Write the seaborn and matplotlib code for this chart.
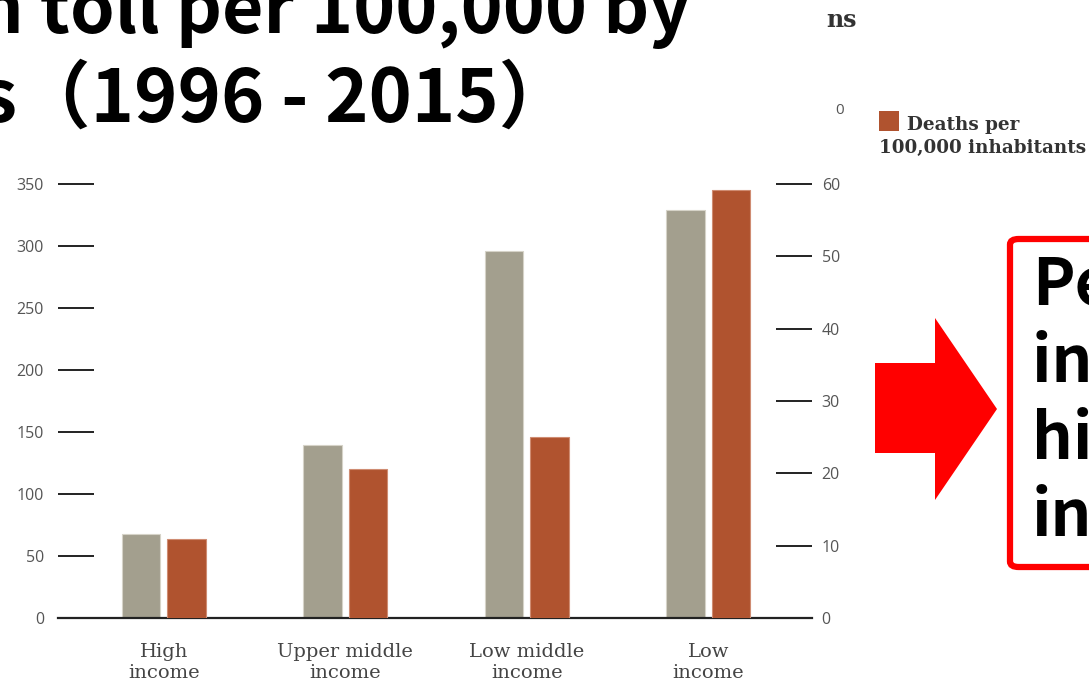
import matplotlib
matplotlib.use("Agg")
import matplotlib.pyplot as plt
from matplotlib.patches import Polygon, FancyBboxPatch, Rectangle
import pandas as pd
import seaborn as sns

categories = ["High\nincome", "Upper middle\nincome", "Low middle\nincome", "Low\nincome"]
total_deaths = [67.5, 139.5, 296, 329]          # left axis (0-350)
deaths_per_100k = [10.9, 20.6, 25.0, 59.2]      # right axis (0-60)
left_ticks = [0, 50, 100, 150, 200, 250, 300, 350]
right_ticks = [0, 10, 20, 30, 40, 50, 60]

title_line1 = "Death toll per 100,000 by"
title_line2 = "income groups（1996 - 2015）"
box_lines = ["People", "in low", "higher", "income"]

gray = "#A39F8E"
rust = "#B0532F"
series_order = ["total", "rate"]
palette = {"total": gray, "rate": rust}
edges = {"total": "#d6d3c8", "rate": "#cf8c72"}

# each axis gets both series so the dodge offsets match; the other one is zero
df_left = pd.DataFrame({
    "income": categories * 2,
    "series": ["total"] * 4 + ["rate"] * 4,
    "value": total_deaths + [0] * 4,
})
df_right = pd.DataFrame({
    "income": categories * 2,
    "series": ["total"] * 4 + ["rate"] * 4,
    "value": [0] * 4 + deaths_per_100k,
})

W, H = 1089, 685
fig = plt.figure(figsize=(W / 100, H / 100), dpi=100)


def fx(px):
    return px / W


def fy(py):
    return 1 - py / H


ax = fig.add_axes([fx(58), fy(618), fx(812) - fx(58), fy(184) - fy(618)])
ax2 = ax.twinx()

for a, d in ((ax, df_left), (ax2, df_right)):
    sns.barplot(data=d, x="income", y="value", hue="series",
                hue_order=series_order, palette=palette, order=categories,
                width=0.5, gap=0.15, saturation=1, linewidth=0,
                legend=False, ax=a)
    for p in a.patches:
        if p.get_height() > 0:
            fc = matplotlib.colors.to_hex(p.get_facecolor())
            p.set_edgecolor(edges["total"] if fc.lower() == gray.lower() else edges["rate"])
            p.set_linewidth(0.8)

for a in (ax, ax2):
    a.set_xlim(-0.582, 3.570)
    a.set_xlabel("")
    a.set_ylabel("")
    for s in ("left", "right", "top", "bottom"):
        a.spines[s].set_visible(False)

ax.set_ylim(0, 350)
ax2.set_ylim(0, 60)
ax.set_yticks(left_ticks)
ax2.set_yticks(right_ticks)
ax.spines["bottom"].set_visible(True)
ax.spines["bottom"].set_color("#222222")
ax.spines["bottom"].set_linewidth(1.6)

ax.tick_params(axis="y", direction="in", length=26, width=1.4, color="#222222",
               pad=10, labelsize=11.5, labelcolor="#555555")
ax2.tick_params(axis="y", direction="in", length=26, width=1.4, color="#222222",
                pad=7, labelsize=11.5, labelcolor="#555555")
for lab in ax.get_yticklabels() + ax2.get_yticklabels():
    lab.set_fontfamily("Open Sans")

ax.set_xticks(range(len(categories)))
ax.set_xticklabels(categories, fontfamily="DejaVu Serif", fontsize=14,
                   color="#444444", linespacing=1.2)
ax.tick_params(axis="x", length=0, pad=18)
ax2.xaxis.set_visible(False)

# title (cropped at the left / top edge of the slide)
tfont = ["Noto Sans CJK JP", "DejaVu Sans"]
fig.text(fx(690), fy(33), title_line1, ha="right", va="baseline", fontsize=51.5,
         fontweight="bold", family=tfont, color="black")
fig.text(fx(572), fy(122), title_line2, ha="right", va="baseline", fontsize=53,
         fontweight="bold", family=tfont, color="black")

# legend fragments at the top right
fig.text(fx(826), fy(20), "ns", ha="left", va="center", fontsize=17,
         fontweight="bold", family="DejaVu Serif", color="#333333")
fig.text(fx(835), fy(110), "0", ha="left", va="center", fontsize=11,
         family="Open Sans", color="#555555")
fig.patches.append(Rectangle((fx(879), fy(131)), fx(20), fy(111) - fy(131),
                             transform=fig.transFigure, facecolor=rust,
                             edgecolor="none"))
fig.text(fx(907), fy(130), "Deaths per", ha="left", va="baseline", fontsize=13.2,
         fontweight="bold", family="DejaVu Serif", color="#333333")
fig.text(fx(879), fy(153), "100,000 inhabitants", ha="left", va="baseline",
         fontsize=13.2, fontweight="bold", family="DejaVu Serif", color="#333333")

# red arrow
arrow_px = [(875, 363), (935, 363), (935, 318), (997, 409), (935, 500),
            (935, 453), (875, 453)]
fig.patches.append(Polygon([(fx(x), fy(y)) for x, y in arrow_px], closed=True,
                           transform=fig.transFigure, facecolor="#FF0000",
                           edgecolor="none"))

# red callout box
fig.patches.append(FancyBboxPatch((fx(1010), fy(567)), fx(150), fy(239) - fy(567),
                                  boxstyle="round,pad=0,rounding_size=0.008",
                                  transform=fig.transFigure, facecolor="white",
                                  edgecolor="#FF0000", linewidth=4.5))
for i, line in enumerate(box_lines):
    fig.text(fx(1032), fy(305 + i * 77), line, ha="left", va="baseline",
             fontsize=46, fontweight="bold", family=["Noto Sans CJK JP"], color="black")

fig.savefig("out.png", dpi=100)
